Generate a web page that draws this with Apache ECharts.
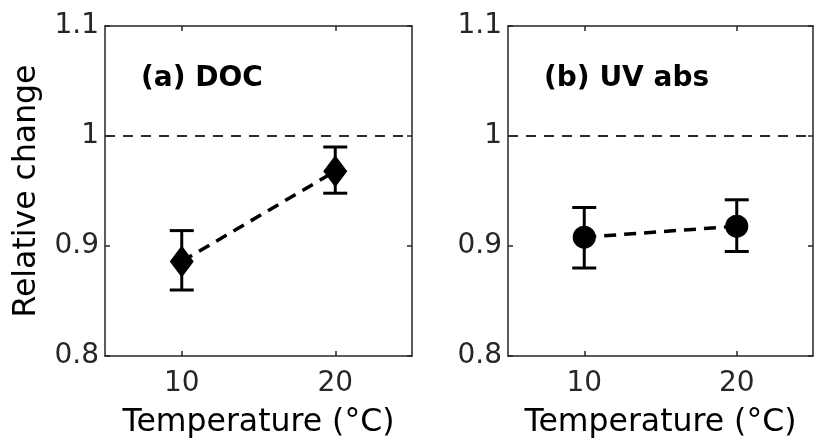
<!DOCTYPE html>
<html>
<head>
<meta charset="utf-8">
<script src="https://cdn.jsdelivr.net/npm/echarts@6/dist/echarts.min.js"></script>
<style>
html,body{margin:0;padding:0;background:#fff;}
#chart{width:814px;height:445px;}
</style>
</head>
<body>
<div id="chart"></div>
<script>
// ---- data ----
const temps = [10, 20];
const xTicks = [10, 20];
const yTicks = [0.8, 0.9, 1.0, 1.1];
const docMean = [0.886, 0.968];
const docLow  = [0.860, 0.948];
const docHigh = [0.914, 0.990];
const uvMean  = [0.908, 0.918];
const uvLow   = [0.880, 0.895];
const uvHigh  = [0.935, 0.942];
const refValue = 1;
const panelTitles = ['(a) DOC', '(b) UV abs'];
const xTitle = 'Temperature (°C)';
const yTitle = 'Relative change';

// ---- styling ----
const FONT = 'DejaVu Sans';
const INK = '#262626';

const grids = [
  {left: 105, top: 26, width: 307, height: 330},
  {left: 508, top: 26, width: 305, height: 330}
];

function xAxes(gi) {
  const common = {
    type: 'value', gridIndex: gi, min: 5, max: 25,
    splitLine: {show: false},
    axisLine: {show: true, lineStyle: {color: INK, width: 1.5}},
    axisTick: {show: true, inside: true, length: 5, customValues: xTicks, lineStyle: {color: INK, width: 1.5}}
  };
  return [
    Object.assign({}, common, {
      position: 'bottom',
      axisLabel: {show: true, customValues: xTicks, margin: 14, color: INK, fontFamily: FONT, fontSize: 28},
      name: xTitle, nameLocation: 'middle', nameGap: 51,
      nameTextStyle: {color: '#000', fontFamily: FONT, fontSize: 31.5}
    }),
    Object.assign({}, common, {position: 'top', axisLabel: {show: false}})
  ];
}

function yAxes(gi, withName) {
  const common = {
    type: 'value', gridIndex: gi, min: 0.8, max: 1.1, interval: 0.1,
    splitLine: {show: false},
    axisLine: {show: true, lineStyle: {color: INK, width: 1.5}},
    axisTick: {show: true, inside: true, length: 5, lineStyle: {color: INK, width: 1.5}}
  };
  const left = Object.assign({}, common, {
    position: 'left',
    axisLabel: {show: true, margin: 6, color: INK, fontFamily: FONT, fontSize: 28,
      formatter: v => String(+(+v).toFixed(1))}
  });
  if (withName) {
    Object.assign(left, {
      name: yTitle, nameLocation: 'middle', nameGap: 62, nameRotate: 90,
      nameTextStyle: {color: '#000', fontFamily: FONT, fontSize: 31.5}
    });
  }
  return [left, Object.assign({}, common, {position: 'right', axisLabel: {show: false}})];
}

function errSeries(xi, yi, low, high) {
  return {
    type: 'custom', xAxisIndex: xi, yAxisIndex: yi, z: 3,
    data: temps.map((t, i) => [t, low[i], high[i]]),
    renderItem: function (params, api) {
      const x = api.value(0);
      const p1 = api.coord([x, api.value(1)]);
      const p2 = api.coord([x, api.value(2)]);
      const hw = 12;
      const style = {stroke: '#000', lineWidth: 3, fill: null};
      return {
        type: 'group',
        children: [
          {type: 'line', shape: {x1: p1[0], y1: p1[1], x2: p2[0], y2: p2[1]}, style: style},
          {type: 'line', shape: {x1: p1[0] - hw, y1: p1[1], x2: p1[0] + hw, y2: p1[1]}, style: style},
          {type: 'line', shape: {x1: p2[0] - hw, y1: p2[1], x2: p2[0] + hw, y2: p2[1]}, style: style}
        ]
      };
    }
  };
}

function meanSeries(xi, yi, mean, symbol, size) {
  return {
    type: 'line', xAxisIndex: xi, yAxisIndex: yi, z: 4,
    data: temps.map((t, i) => [t, mean[i]]),
    symbol: symbol, symbolSize: size, showSymbol: true,
    itemStyle: {color: '#000'},
    lineStyle: {color: '#000', width: 3.5, type: [12, 8]},
    silent: true, animation: false,
    markLine: {
      silent: true, symbol: 'none', animation: false,
      label: {show: false},
      lineStyle: {color: '#2a2a2a', width: 1.8, type: [10, 8]},
      data: [{yAxis: refValue}]
    }
  };
}

const option = {
  backgroundColor: '#fff',
  animation: false,
  title: [
    {text: panelTitles[0], left: 136, top: 60,
      textStyle: {fontFamily: FONT, fontWeight: 'bold', fontSize: 28, color: '#000'}},
    {text: panelTitles[1], left: 539, top: 60,
      textStyle: {fontFamily: FONT, fontWeight: 'bold', fontSize: 28, color: '#000'}}
  ],
  grid: grids,
  xAxis: [...xAxes(0), ...xAxes(1)],
  yAxis: [...yAxes(0, true), ...yAxes(1, false)],
  series: [
    errSeries(0, 0, docLow, docHigh),
    meanSeries(0, 0, docMean, 'diamond', [24, 32]),
    errSeries(2, 2, uvLow, uvHigh),
    meanSeries(2, 2, uvMean, 'circle', 23)
  ]
};

const chart = echarts.init(document.getElementById('chart'), null, {renderer: 'canvas'});
chart.setOption(option);
</script>
</body>
</html>
